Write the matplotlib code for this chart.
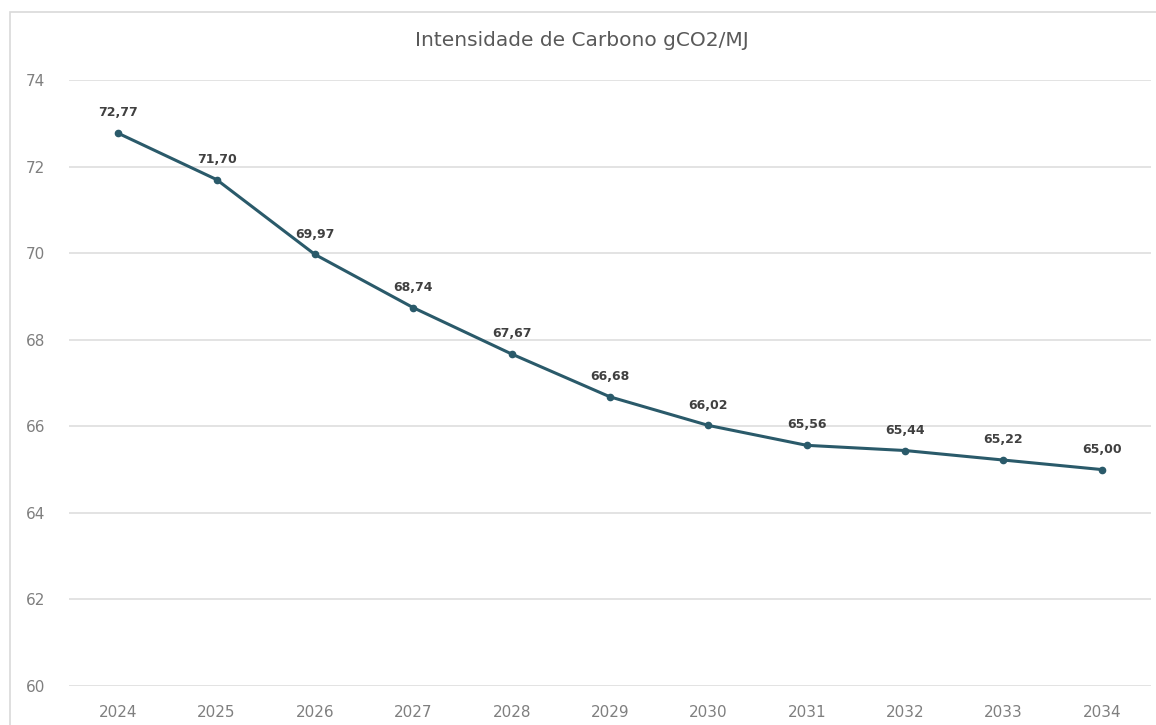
import matplotlib
matplotlib.use("Agg")
import matplotlib.pyplot as plt
from matplotlib.patches import Rectangle

years = ["2024", "2025", "2026", "2027", "2028", "2029", "2030", "2031", "2032", "2033", "2034"]
values = [72.77, 71.70, 69.97, 68.74, 67.67, 66.68, 66.02, 65.56, 65.44, 65.22, 65.00]
y_ticks = [60, 62, 64, 66, 68, 70, 72, 74]
title = "Intensidade de Carbono gCO2/MJ"

W, H = 1156, 725
fig = plt.figure(figsize=(W / 100, H / 100), dpi=100)
fig.patch.set_facecolor("white")

# outer chart border
fig.patches.append(Rectangle((10 / W, -0.05), 1.2, 1 - 12 / H + 0.05,
                             transform=fig.transFigure, fill=False,
                             edgecolor="#d9d9d9", linewidth=1.2))

ax = fig.add_axes([69 / W, 1 - 686 / H, (1151 - 69) / W, (686 - 80) / H])
x = list(range(len(years)))
ax.plot(x, values, color="#2a5a6a", linewidth=2.2, marker="o", markersize=4.5,
        markerfacecolor="#2a5a6a", markeredgecolor="#2a5a6a", zorder=3)

for xi, v in zip(x, values):
    ax.annotate(f"{v:.2f}".replace(".", ","), (xi, v), xytext=(0, 10),
                textcoords="offset points", ha="center", va="bottom",
                fontsize=9, fontweight="bold", color="#404040")

ax.set_xlim(-0.5, len(years) - 0.5)
ax.set_ylim(60, 74)
ax.set_xticks(x)
ax.set_xticklabels(years)
ax.set_yticks(y_ticks)
ax.grid(axis="y", color="#e0e0e0", linewidth=1.3)
ax.set_axisbelow(True)
for s in ax.spines.values():
    s.set_visible(False)
ax.tick_params(axis="both", length=0, labelsize=11, labelcolor="#7f7f7f")
ax.tick_params(axis="y", pad=17)
ax.tick_params(axis="x", pad=14)

fig.text(0.503, 1 - 40 / H, title, ha="center", va="center", fontsize=14.5,
         color="#595959")

fig.savefig("out.png", dpi=100)
